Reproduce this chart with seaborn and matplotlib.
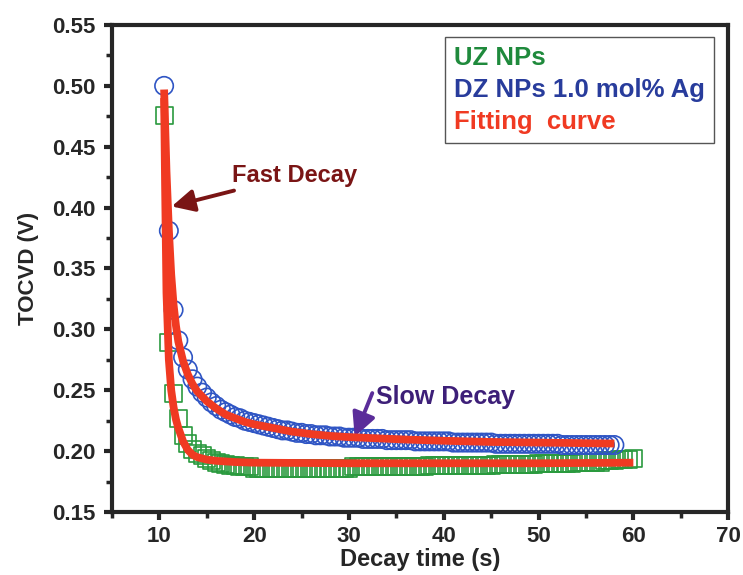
import numpy as np
import pandas as pd
import matplotlib
matplotlib.use("Agg")
import matplotlib.pyplot as plt
from matplotlib.lines import Line2D
from matplotlib.ticker import MultipleLocator
import seaborn as sns

# ---------------- data ----------------
t_uz = np.arange(10.5, 60.01, 0.5)
uz_vals = [0.476, 0.289, 0.247, 0.227, 0.213, 0.206, 0.201, 0.198, 0.196, 0.194,
           0.192, 0.191, 0.190, 0.189, 0.188, 0.188, 0.187, 0.187, 0.187,
           0.186, 0.186, 0.186, 0.186, 0.186, 0.186, 0.186, 0.186, 0.186, 0.186,
           0.186, 0.186, 0.186, 0.186, 0.186, 0.186, 0.186, 0.186, 0.186, 0.186, 0.186,
           0.187, 0.187, 0.187, 0.187, 0.187, 0.187, 0.187, 0.187,
           0.187, 0.187, 0.187, 0.187, 0.187, 0.187, 0.187, 0.187,
           0.188, 0.188, 0.188, 0.188, 0.188, 0.188, 0.188,
           0.188, 0.188, 0.188, 0.188, 0.188, 0.188, 0.188,
           0.189, 0.189, 0.189, 0.189, 0.189, 0.189, 0.189, 0.189, 0.189,
           0.190, 0.190, 0.190, 0.190, 0.190, 0.190, 0.190, 0.190,
           0.191, 0.191, 0.191, 0.191, 0.191, 0.191,
           0.192, 0.192, 0.192,
           0.193, 0.193, 0.193,
           0.194]

t_dz = np.arange(10.5, 58.01, 0.5)
dz_vals = [0.500, 0.381, 0.316, 0.291, 0.277, 0.267, 0.259, 0.253, 0.248, 0.244,
           0.240, 0.237, 0.234, 0.232, 0.230, 0.228, 0.227, 0.225, 0.224, 0.223,
           0.222, 0.221, 0.220, 0.219, 0.218, 0.217, 0.217, 0.216, 0.215, 0.215,
           0.214, 0.214, 0.213, 0.213, 0.213, 0.212, 0.212, 0.212, 0.211, 0.211,
           0.211, 0.211, 0.210, 0.210, 0.210, 0.210, 0.210, 0.209, 0.209, 0.209,
           0.209, 0.209, 0.209, 0.208, 0.208, 0.208, 0.208, 0.208, 0.208, 0.208,
           0.208,
           0.207, 0.207, 0.207, 0.207, 0.207, 0.207, 0.207, 0.207, 0.207,
           0.206, 0.206, 0.206, 0.206, 0.206, 0.206, 0.206, 0.206, 0.206, 0.206,
           0.206, 0.206, 0.206, 0.206,
           0.205, 0.205, 0.205, 0.205, 0.205, 0.205, 0.205, 0.205, 0.205, 0.205,
           0.205, 0.205]

fit_dz_t = [10.5, 10.75, 11.0, 11.25, 11.5, 11.75, 12.0, 12.5, 13.0, 13.5, 14.0,
            15.0, 16.0, 17.0, 18.0, 19.0, 20.0, 22.0, 24.0, 26.0, 28.0, 30.0,
            33.0, 36.0, 40.0, 45.0, 50.0, 55.0, 58.0]
fit_dz_v = [0.497, 0.430, 0.382, 0.345, 0.320, 0.303, 0.290, 0.274, 0.263, 0.255, 0.249,
            0.241, 0.235, 0.230, 0.227, 0.224, 0.222, 0.219, 0.216, 0.214, 0.2125, 0.2115,
            0.2105, 0.2095, 0.2085, 0.2075, 0.207, 0.2065, 0.2062]

fit_uz_t = [10.5, 10.6, 10.75, 11.0, 11.25, 11.5, 11.75, 12.0, 12.5, 13.0, 13.5, 14.0,
            15.0, 16.0, 18.0, 20.0, 30.0, 40.0, 50.0, 60.0]
fit_uz_v = [0.490, 0.420, 0.330, 0.275, 0.250, 0.236, 0.226, 0.219, 0.208, 0.201, 0.197,
            0.195, 0.193, 0.192, 0.191, 0.1905, 0.190, 0.190, 0.190, 0.1905]

legend_labels = ["UZ NPs", "DZ NPs 1.0 mol% Ag", "Fitting  curve"]
legend_colors = ["#1f8a3c", "#283c9c", "#f03a22"]

# ---------------- style ----------------
sns.set_style("ticks")
plt.rcParams["font.family"] = ["Liberation Sans", "DejaVu Sans"]
plt.rcParams["font.weight"] = "bold"

fig = plt.figure(figsize=(7.43, 5.75), dpi=100)
ax = fig.add_axes([0.1507, 0.1096, 0.8293, 0.8469])

green = "#2a9a3e"
blue = "#2f55c4"
red = "#f03a22"

sns.scatterplot(x=t_uz, y=uz_vals, ax=ax, marker="s", s=150,
                facecolor="none", edgecolor=green, linewidth=1.2, zorder=2)
sns.scatterplot(x=t_dz, y=dz_vals, ax=ax, marker="o", s=175,
                facecolor="none", edgecolor=blue, linewidth=1.2, zorder=3)
sns.lineplot(x=fit_uz_t, y=fit_uz_v, ax=ax, color=red, linewidth=5.6, zorder=4,
             solid_capstyle="butt")
sns.lineplot(x=fit_dz_t, y=fit_dz_v, ax=ax, color=red, linewidth=5.6, zorder=4,
             solid_capstyle="butt")

ax.set_xlim(5, 70)
ax.set_ylim(0.15, 0.55)
ax.xaxis.set_minor_locator(MultipleLocator(5))
ax.yaxis.set_minor_locator(MultipleLocator(0.025))
ax.set_xticks([10, 20, 30, 40, 50, 60, 70])
ax.set_yticks([0.15, 0.20, 0.25, 0.30, 0.35, 0.40, 0.45, 0.50, 0.55])
ax.set_yticklabels([f"{v:.2f}" for v in [0.15, 0.20, 0.25, 0.30, 0.35, 0.40, 0.45, 0.50, 0.55]])

for sp in ax.spines.values():
    sp.set_linewidth(3.0)
    sp.set_visible(True)
ax.tick_params(which="major", direction="out", length=6, width=3,
               labelsize=16, top=False, right=False)
ax.tick_params(axis="y", which="major", pad=6)
ax.tick_params(axis="x", which="major", pad=4)
ax.tick_params(which="minor", direction="out", length=4, width=2.5,
               top=False, right=False)
for lab in ax.get_xticklabels() + ax.get_yticklabels():
    lab.set_fontweight("bold")

ax.set_xlabel("Decay time (s)", fontsize=17, fontweight="bold", labelpad=1)
ax.set_ylabel("TOCVD (V)", fontsize=16, fontweight="bold", labelpad=9)

# legend (text only, coloured)
handles = [Line2D([], [], linestyle="none") for _ in legend_labels]
leg = ax.legend(handles, legend_labels, loc="upper right",
                bbox_to_anchor=(0.977, 0.975), borderaxespad=0,
                handlelength=0, handletextpad=0,
                labelspacing=0.3, borderpad=0.35, fancybox=False,
                framealpha=1, edgecolor="#555555",
                prop={"weight": "bold", "size": 18.5})
leg.get_frame().set_linewidth(1.0)
for txt, c in zip(leg.get_texts(), legend_colors):
    txt.set_color(c)

# annotations
ax.annotate("Fast Decay", xy=(11.3, 0.401), xytext=(17.7, 0.4267),
            color="#7a1515", fontsize=17, fontweight="bold",
            va="center", ha="left",
            arrowprops=dict(arrowstyle="-|>,head_length=0.8,head_width=0.4",
                            color="#7a1515", lw=2.8, shrinkA=2, shrinkB=0))
ax.annotate("Slow Decay", xy=(30.6, 0.2118), xytext=(32.9, 0.2447),
            color="#3d1f78", fontsize=18, fontweight="bold",
            va="center", ha="left",
            arrowprops=dict(arrowstyle="-|>,head_length=0.8,head_width=0.4",
                            color="#5b2d9a", lw=2.8, shrinkA=0, shrinkB=0,
                            relpos=(-0.03, 0.65)))

fig.savefig("out.png", dpi=100)
